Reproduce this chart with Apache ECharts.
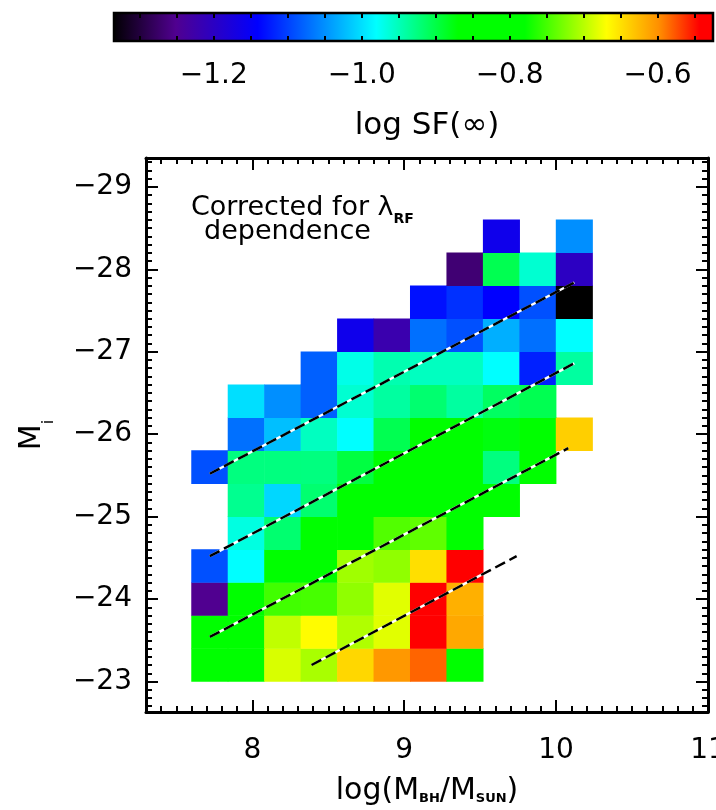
<!DOCTYPE html>
<html>
<head>
<meta charset="utf-8">
<script src="https://cdn.jsdelivr.net/npm/echarts@6/dist/echarts.min.js"></script>
<style>html,body{margin:0;padding:0;background:#fff}#chart{width:716px;height:810px}</style>
</head>
<body>
<div id="chart"></div>
<script>
// ---------------- data ----------------
// bin centres
const logMbhCenters = [7.72, 7.96, 8.20, 8.44, 8.68, 8.92, 9.16, 9.40, 9.64, 9.88, 10.12];
const MiCenters = [-23.2, -23.6, -24.0, -24.4, -24.8, -25.2, -25.6, -26.0, -26.4, -26.8, -27.2, -27.6, -28.0, -28.4];
const binWidthLogM = 0.24;
const binWidthMi = 0.4;

// log SF(inf) per Mi row (bottom to top); one value per logMbh bin, null = empty bin
const logSF_Mi_23_2 = [-0.83, -0.82, -0.687, -0.707, -0.645, -0.605, -0.583, -0.81, null, null, null];
const logSF_Mi_23_6 = [-0.84, -0.82, -0.697, -0.668, -0.704, -0.683, -0.53, -0.615, null, null, null];
const logSF_Mi_24_0 = [-1.25, -0.83, -0.752, -0.75, -0.718, -0.683, -0.53, -0.62, null, null, null];
const logSF_Mi_24_4 = [-1.09, -0.98, -0.84, -0.83, -0.711, -0.718, -0.65, -0.53, null, null, null];
const logSF_Mi_24_8 = [null, -0.967, -0.918, -0.84, -0.83, -0.745, -0.739, -0.82, null, null, null];
const logSF_Mi_25_2 = [null, -0.932, -1.005, -0.918, -0.84, -0.83, -0.83, -0.82, -0.82, null, null];
const logSF_Mi_25_6 = [-1.09, -0.925, -0.925, -0.925, -0.898, -0.85, -0.84, -0.83, -0.925, -0.83, null];
const logSF_Mi_26_0 = [null, -1.07, -1.02, -0.953, -0.98, -0.905, -0.86, -0.85, -0.876, -0.85, -0.64];
const logSF_Mi_26_4 = [null, -1.0, -1.05, -1.08, -0.96, -0.939, -0.918, -0.939, -0.912, -0.905, null];
const logSF_Mi_26_8 = [null, null, null, -1.08, -0.97, -0.946, -0.953, -0.953, -0.98, -1.12, -0.939];
const logSF_Mi_27_2 = [null, null, null, null, -1.16, -1.22, -1.07, -1.09, -1.03, -1.07, -0.98];
const logSF_Mi_27_6 = [null, null, null, null, null, null, -1.13, -1.11, -1.14, -1.09, -1.335];
const logSF_Mi_28_0 = [null, null, null, null, null, null, null, -1.267, -0.905, -0.96, -1.20];
const logSF_Mi_28_4 = [null, null, null, null, null, null, null, null, -1.16, null, -1.05];
const logSFRows = [logSF_Mi_23_2, logSF_Mi_23_6, logSF_Mi_24_0, logSF_Mi_24_4, logSF_Mi_24_8,
  logSF_Mi_25_2, logSF_Mi_25_6, logSF_Mi_26_0, logSF_Mi_26_4, logSF_Mi_26_8,
  logSF_Mi_27_2, logSF_Mi_27_6, logSF_Mi_28_0, logSF_Mi_28_4];

// dashed reference lines: [logMbh, Mi] end points
const refLine1 = [[7.72, -25.52], [10.12, -27.84]];
const refLine2 = [[7.72, -24.52], [10.12, -26.86]];
const refLine3 = [[7.72, -23.54], [10.08, -25.83]];
const refLine4 = [[8.39, -23.20], [9.74, -24.52]];
const refLines = [refLine1, refLine2, refLine3, refLine4];

// axes ranges and tick labels
const xRange = [7.3, 11.0];
const yRange = [-29.35, -22.63];
const xMajorTicks = [8, 9, 10, 11];
const yMajorTicks = [-29, -28, -27, -26, -25, -24, -23];
const cbRange = [-1.335, -0.525];
const cbLabelTicks = [-1.2, -1.0, -0.8, -0.6];

// colour table (value -> colour)
const cmapStops = [
  [-1.335, '#000000'], [-1.25, '#500090'], [-1.14, '#0000ff'], [-0.98, '#00ffff'],
  [-0.87, '#00ff00'], [-0.78, '#00ff00'], [-0.67, '#ffff00'], [-0.60, '#ff9000'],
  [-0.545, '#ff0000'], [-0.525, '#ff0000']
];

// ---------------- build ----------------
const FONT = 'DejaVu Sans';
const xMinorTicks = []; for (let i = 73; i <= 110; i++) xMinorTicks.push(i / 10);
const yMinorTicks = []; for (let i = -293; i <= -227; i++) yMinorTicks.push(i / 10);
const cbMinorTicks = []; for (let i = -26; i <= -11; i++) cbMinorTicks.push(i / 20);

function hexRgb(h) { return [parseInt(h.slice(1, 3), 16), parseInt(h.slice(3, 5), 16), parseInt(h.slice(5, 7), 16)]; }
function cmap(v) {
  if (v <= cmapStops[0][0]) return cmapStops[0][1];
  for (let i = 1; i < cmapStops.length; i++) {
    if (v <= cmapStops[i][0]) {
      const a = cmapStops[i - 1], b = cmapStops[i];
      const t = (v - a[0]) / (b[0] - a[0]);
      const ca = hexRgb(a[1]), cb = hexRgb(b[1]);
      const c = ca.map((x, k) => Math.round(x + (cb[k] - x) * t));
      return 'rgb(' + c.join(',') + ')';
    }
  }
  return cmapStops[cmapStops.length - 1][1];
}
const vmColors = [];
for (let i = 0; i <= 162; i++) vmColors.push(cmap(cbRange[0] + (cbRange[1] - cbRange[0]) * i / 162));
const gradStops = cmapStops.map(s => ({ offset: (s[0] - cbRange[0]) / (cbRange[1] - cbRange[0]), color: s[1] }));

const cellData = [];
logSFRows.forEach((row, k) => {
  row.forEach((v, i) => { if (v !== null) cellData.push([logMbhCenters[i], MiCenters[k], v]); });
});

const minus = v => (v < 0 ? '\u2212' : '') + Math.abs(v);

function renderCell(params, api) {
  const x = api.value(0), y = api.value(1);
  const p1 = api.coord([x - binWidthLogM / 2, y - binWidthMi / 2]);
  const p2 = api.coord([x + binWidthLogM / 2, y + binWidthMi / 2]);
  const x0 = Math.min(p1[0], p2[0]), y0 = Math.min(p1[1], p2[1]);
  return {
    type: 'rect',
    shape: { x: x0 - 0.3, y: y0 - 0.3, width: Math.abs(p2[0] - p1[0]) + 0.6, height: Math.abs(p2[1] - p1[1]) + 0.6 },
    style: { fill: api.visual('color') }
  };
}
function renderColorbar(params, api) {
  const p1 = api.coord([api.value(0), 0]);
  const p2 = api.coord([api.value(1), 1]);
  return {
    type: 'rect',
    shape: { x: p1[0], y: p2[1], width: p2[0] - p1[0], height: p1[1] - p2[1] },
    style: { fill: new echarts.graphic.LinearGradient(0, 0, 1, 0, gradStops), stroke: '#000', lineWidth: 2.5 }
  };
}

const tickStyle = { color: '#000', width: 2 };
function xAx(grid, pos, range, ticks, len, opts) {
  return Object.assign({
    type: 'value', gridIndex: grid, position: pos, min: range[0], max: range[1], z: 10,
    axisLine: { show: false },
    axisTick: { show: true, inside: true, length: len, lineStyle: tickStyle, customValues: ticks },
    axisLabel: { show: false },
    splitLine: { show: false }
  }, opts || {});
}

const mainLine = { show: true, onZero: false, lineStyle: { color: '#000', width: 3 } };

const option = {
  animation: false,
  backgroundColor: '#fff',
  grid: [
    { left: 146, top: 158, width: 562, height: 554, containLabel: false, outerBoundsMode: 'none' },
    { left: 114, top: 13, width: 599, height: 28, containLabel: false, outerBoundsMode: 'none' }
  ],
  xAxis: [
    xAx(0, 'bottom', xRange, xMajorTicks, 12, {
      axisLine: mainLine,
      axisLabel: { show: true, customValues: xMajorTicks, margin: 25, fontSize: 28, color: '#000', fontFamily: FONT },
      name: '{a|log(M}{s|BH}{a|/M}{s|SUN}{a|)}', nameLocation: 'middle', nameGap: 65,
      nameTextStyle: { rich: {
        a: { fontSize: 30, fontFamily: FONT, color: '#000', lineHeight: 28 },
        s: { fontSize: 13, fontFamily: FONT, fontWeight: 'bold', color: '#000', lineHeight: 13, verticalAlign: 'bottom' }
      } }
    }),
    xAx(0, 'bottom', xRange, xMinorTicks, 6),
    xAx(0, 'top', xRange, xMajorTicks, 12, { axisLine: mainLine }),
    xAx(0, 'top', xRange, xMinorTicks, 6),
    xAx(1, 'bottom', cbRange, cbMinorTicks, 5, {
      axisLabel: { show: true, customValues: cbLabelTicks, margin: 21, fontSize: 28, color: '#000', fontFamily: FONT,
        formatter: v => (v < 0 ? '\u2212' : '') + Math.abs(v).toFixed(1) },
      name: 'log SF(\u221e)', nameLocation: 'middle', nameGap: 69,
      nameTextStyle: { fontSize: 31, fontFamily: FONT, color: '#000', padding: [0, 0, 0, 27] }
    }),
    xAx(1, 'top', cbRange, cbMinorTicks, 5)
  ],
  yAxis: [
    xAx(0, 'left', yRange, yMajorTicks, 12, {
      inverse: true, axisLine: mainLine,
      axisLabel: { show: true, customValues: yMajorTicks, margin: 14, fontSize: 28, color: '#000', fontFamily: FONT, formatter: minus },
      name: '{a|M}{s|i}', nameLocation: 'middle', nameGap: 89, nameRotate: 90,
      nameTextStyle: { rich: {
        a: { fontSize: 30, fontFamily: FONT, color: '#000', lineHeight: 49 },
        s: { fontSize: 16, fontFamily: FONT, color: '#000', lineHeight: 16, verticalAlign: 'bottom' }
      } }
    }),
    xAx(0, 'left', yRange, yMinorTicks, 6, { inverse: true }),
    xAx(0, 'right', yRange, yMajorTicks, 12, { inverse: true, axisLine: mainLine }),
    xAx(0, 'right', yRange, yMinorTicks, 6, { inverse: true }),
    { type: 'value', gridIndex: 1, min: 0, max: 1, show: false }
  ],
  visualMap: {
    type: 'continuous', show: false, seriesIndex: 0, dimension: 2,
    min: cbRange[0], max: cbRange[1], inRange: { color: vmColors }
  },
  graphic: [
    { type: 'text', x: 191, y: 190, z: 20, style: {
      text: '{a|Corrected for \u03bb}{s|RF}',
      rich: {
        a: { fontSize: 27, fontFamily: FONT, fill: '#000', lineHeight: 36 },
        s: { fontSize: 14, fontFamily: FONT, fontWeight: 'bold', fill: '#000', lineHeight: 14, verticalAlign: 'bottom' }
      } } },
    { type: 'text', x: 204, y: 214, z: 20, style: {
      text: '{a|dependence}',
      rich: { a: { fontSize: 27, fontFamily: FONT, fill: '#000', lineHeight: 36 } } } }
  ],
  series: [
    { type: 'custom', name: 'log SF', xAxisIndex: 0, yAxisIndex: 0, data: cellData, renderItem: renderCell, z: 2, encode: { x: 0, y: 1 } },
    { type: 'custom', name: 'colorbar', xAxisIndex: 4, yAxisIndex: 4, data: [[cbRange[0], cbRange[1]]], renderItem: renderColorbar, z: 2, silent: true }
  ]
};

refLines.forEach((ln, i) => {
  option.series.push({ type: 'line', name: 'ref' + (i + 1) + 'w', xAxisIndex: 0, yAxisIndex: 0, data: ln, symbol: 'none', silent: true, z: 3,
    lineStyle: { color: '#fff', width: 2.5, type: 'solid' } });
  option.series.push({ type: 'line', name: 'ref' + (i + 1) + 'k', xAxisIndex: 0, yAxisIndex: 0, data: ln, symbol: 'none', silent: true, z: 4,
    lineStyle: { color: '#000', width: 2.5, type: [11, 5] } });
});

const chart = echarts.init(document.getElementById('chart'), null, { renderer: 'canvas', width: 716, height: 810 });
chart.setOption(option);
</script>
</body>
</html>
